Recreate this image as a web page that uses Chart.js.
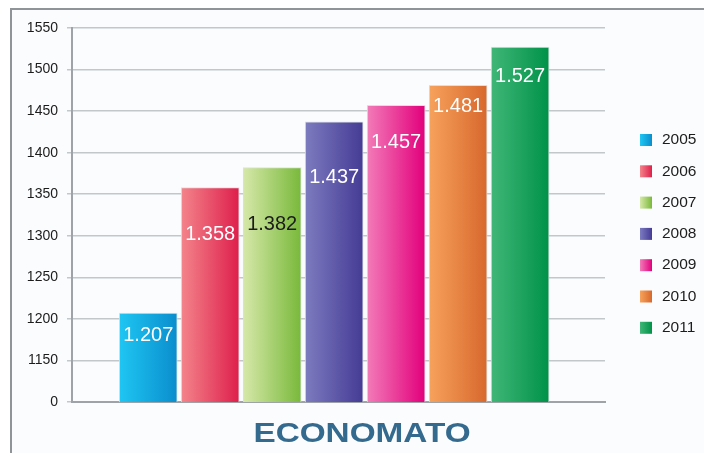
<!DOCTYPE html>
<html lang="it">
<head>
<meta charset="UTF-8">
<title>Economato</title>
<script src="https://cdn.jsdelivr.net/npm/chart.js@4"></script>
<style>
    body { margin: 0; background: #fff; }
    /* grey frame round the picture */
    .frame {
        position: absolute; left: 10px; top: 8px; right: 0; bottom: 0;
        border-left: 2px solid #8f9499; border-top: 2px solid #8f9499;
        background: #fbfcfe;
    }
    #chart { position: absolute; left: 0; top: 0; }
</style>
</head>
<body>
<div class="frame"></div>
<canvas id="chart" width="704" height="453"></canvas>
<script>
const years = ['2005', '2006', '2007', '2008', '2009', '2010', '2011'];
const values = [1207, 1358, 1382, 1437, 1457, 1481, 1527];
// the axis is cut: the bottom line is labelled 0, then 1150 ... 1550
const tickLabels = ['0', '1150', '1200', '1250', '1300', '1350', '1400', '1450', '1500', '1550'];

const leftColors  = ['#1fc6f3', '#f3848b', '#d6e8a9', '#7d7bbf', '#f27bb8', '#f6a25c', '#40b677'];
const rightColors = ['#0a8dcd', '#de1f4b', '#79b93a', '#453b95', '#e2007c', '#d8682d', '#009249'];
const labelColors = ['#fff', '#fff', '#1c1c1c', '#fff', '#fff', '#fff', '#fff'];
const labelDrop = [22, 47, 57, 56, 37, 21, 29];

const fmt = v => String(v).replace(/\B(?=(\d{3})+$)/g, '.');

function barGradient(ctx, x0, x1, i) {
    const g = ctx.createLinearGradient(x0, 0, x1, 0);
    g.addColorStop(0, leftColors[i]);
    g.addColorStop(1, rightColors[i]);
    return g;
}

// value written inside the top of each bar
const barLabels = {
    id: 'barLabels',
    afterDatasetsDraw(chart) {
        const ctx = chart.ctx;
        ctx.save();
        ctx.font = '20px "Liberation Sans", Arial, sans-serif';
        ctx.textAlign = 'center';
        ctx.textBaseline = 'middle';
        chart.getDatasetMeta(0).data.forEach((bar, i) => {
            ctx.fillStyle = labelColors[i];
            ctx.fillText(fmt(values[i]), bar.x, bar.y + labelDrop[i]);
        });
        ctx.restore();
    }
};

// legend on the right and the caption underneath
const sideParts = {
    id: 'sideParts',
    afterDraw(chart) {
        const ctx = chart.ctx;
        ctx.save();
        ctx.font = '15.5px "Liberation Sans", Arial, sans-serif';
        ctx.textBaseline = 'middle';
        ctx.textAlign = 'left';
        years.forEach((yr, i) => {
            const y = 140 + i * 31.3;
            ctx.fillStyle = barGradient(ctx, 640, 652, i);
            ctx.fillRect(640, y - 6, 12, 12);
            ctx.fillStyle = '#1c1c1c';
            ctx.fillText(yr, 662, y);
        });
        ctx.font = 'bold 28px "Liberation Sans", Arial, sans-serif';
        ctx.fillStyle = '#356a8f';
        ctx.textAlign = 'center';
        ctx.translate(362, 434);
        ctx.scale(1.19, 1);
        ctx.fillText('ECONOMATO', 0, 0);
        ctx.restore();
    }
};

new Chart(document.getElementById('chart'), {
    type: 'bar',
    data: {
        datasets: [{
            data: values.map((v, i) => ({ x: i, y: v })),
            barThickness: 58,
            borderWidth: 1,
            borderColor: 'rgba(215,222,222,0.9)',
            borderSkipped: 'bottom',
            backgroundColor: c => {
                const area = c.chart.chartArea;
                if (!area || c.type !== 'data') return rightColors[c.dataIndex];
                const x = c.chart.scales.x.getPixelForValue(c.dataIndex);
                return barGradient(c.chart.ctx, x - 29, x + 29, c.dataIndex);
            }
        }]
    },
    options: {
        responsive: false,
        devicePixelRatio: 1,
        animation: false,
        layout: { padding: { top: 28, left: 0, right: 99, bottom: 51 } },
        plugins: { legend: { display: false }, tooltip: { enabled: false } },
        scales: {
            x: {
                type: 'linear',
                offset: false,
                min: -1.23,
                max: 7.37,
                ticks: { display: false },
                grid: { display: false },
                border: { color: '#9ea3a8', width: 2 },
                afterFit: s => { s.height = 0; }
            },
            y: {
                min: 1100,
                max: 1550,
                ticks: {
                    stepSize: 50,
                    padding: 9,
                    color: '#1c1c1c',
                    font: { family: '"Liberation Sans", Arial, sans-serif', size: 14 },
                    callback: (v, i) => tickLabels[i]
                },
                grid: { color: '#c4c7ca', lineWidth: 1.5, tickLength: 5 },
                border: { color: '#9ea3a8', width: 2 },
                afterFit: s => { s.width = 72; }
            }
        }
    },
    plugins: [barLabels, sideParts]
});
</script>
</body>
</html>
